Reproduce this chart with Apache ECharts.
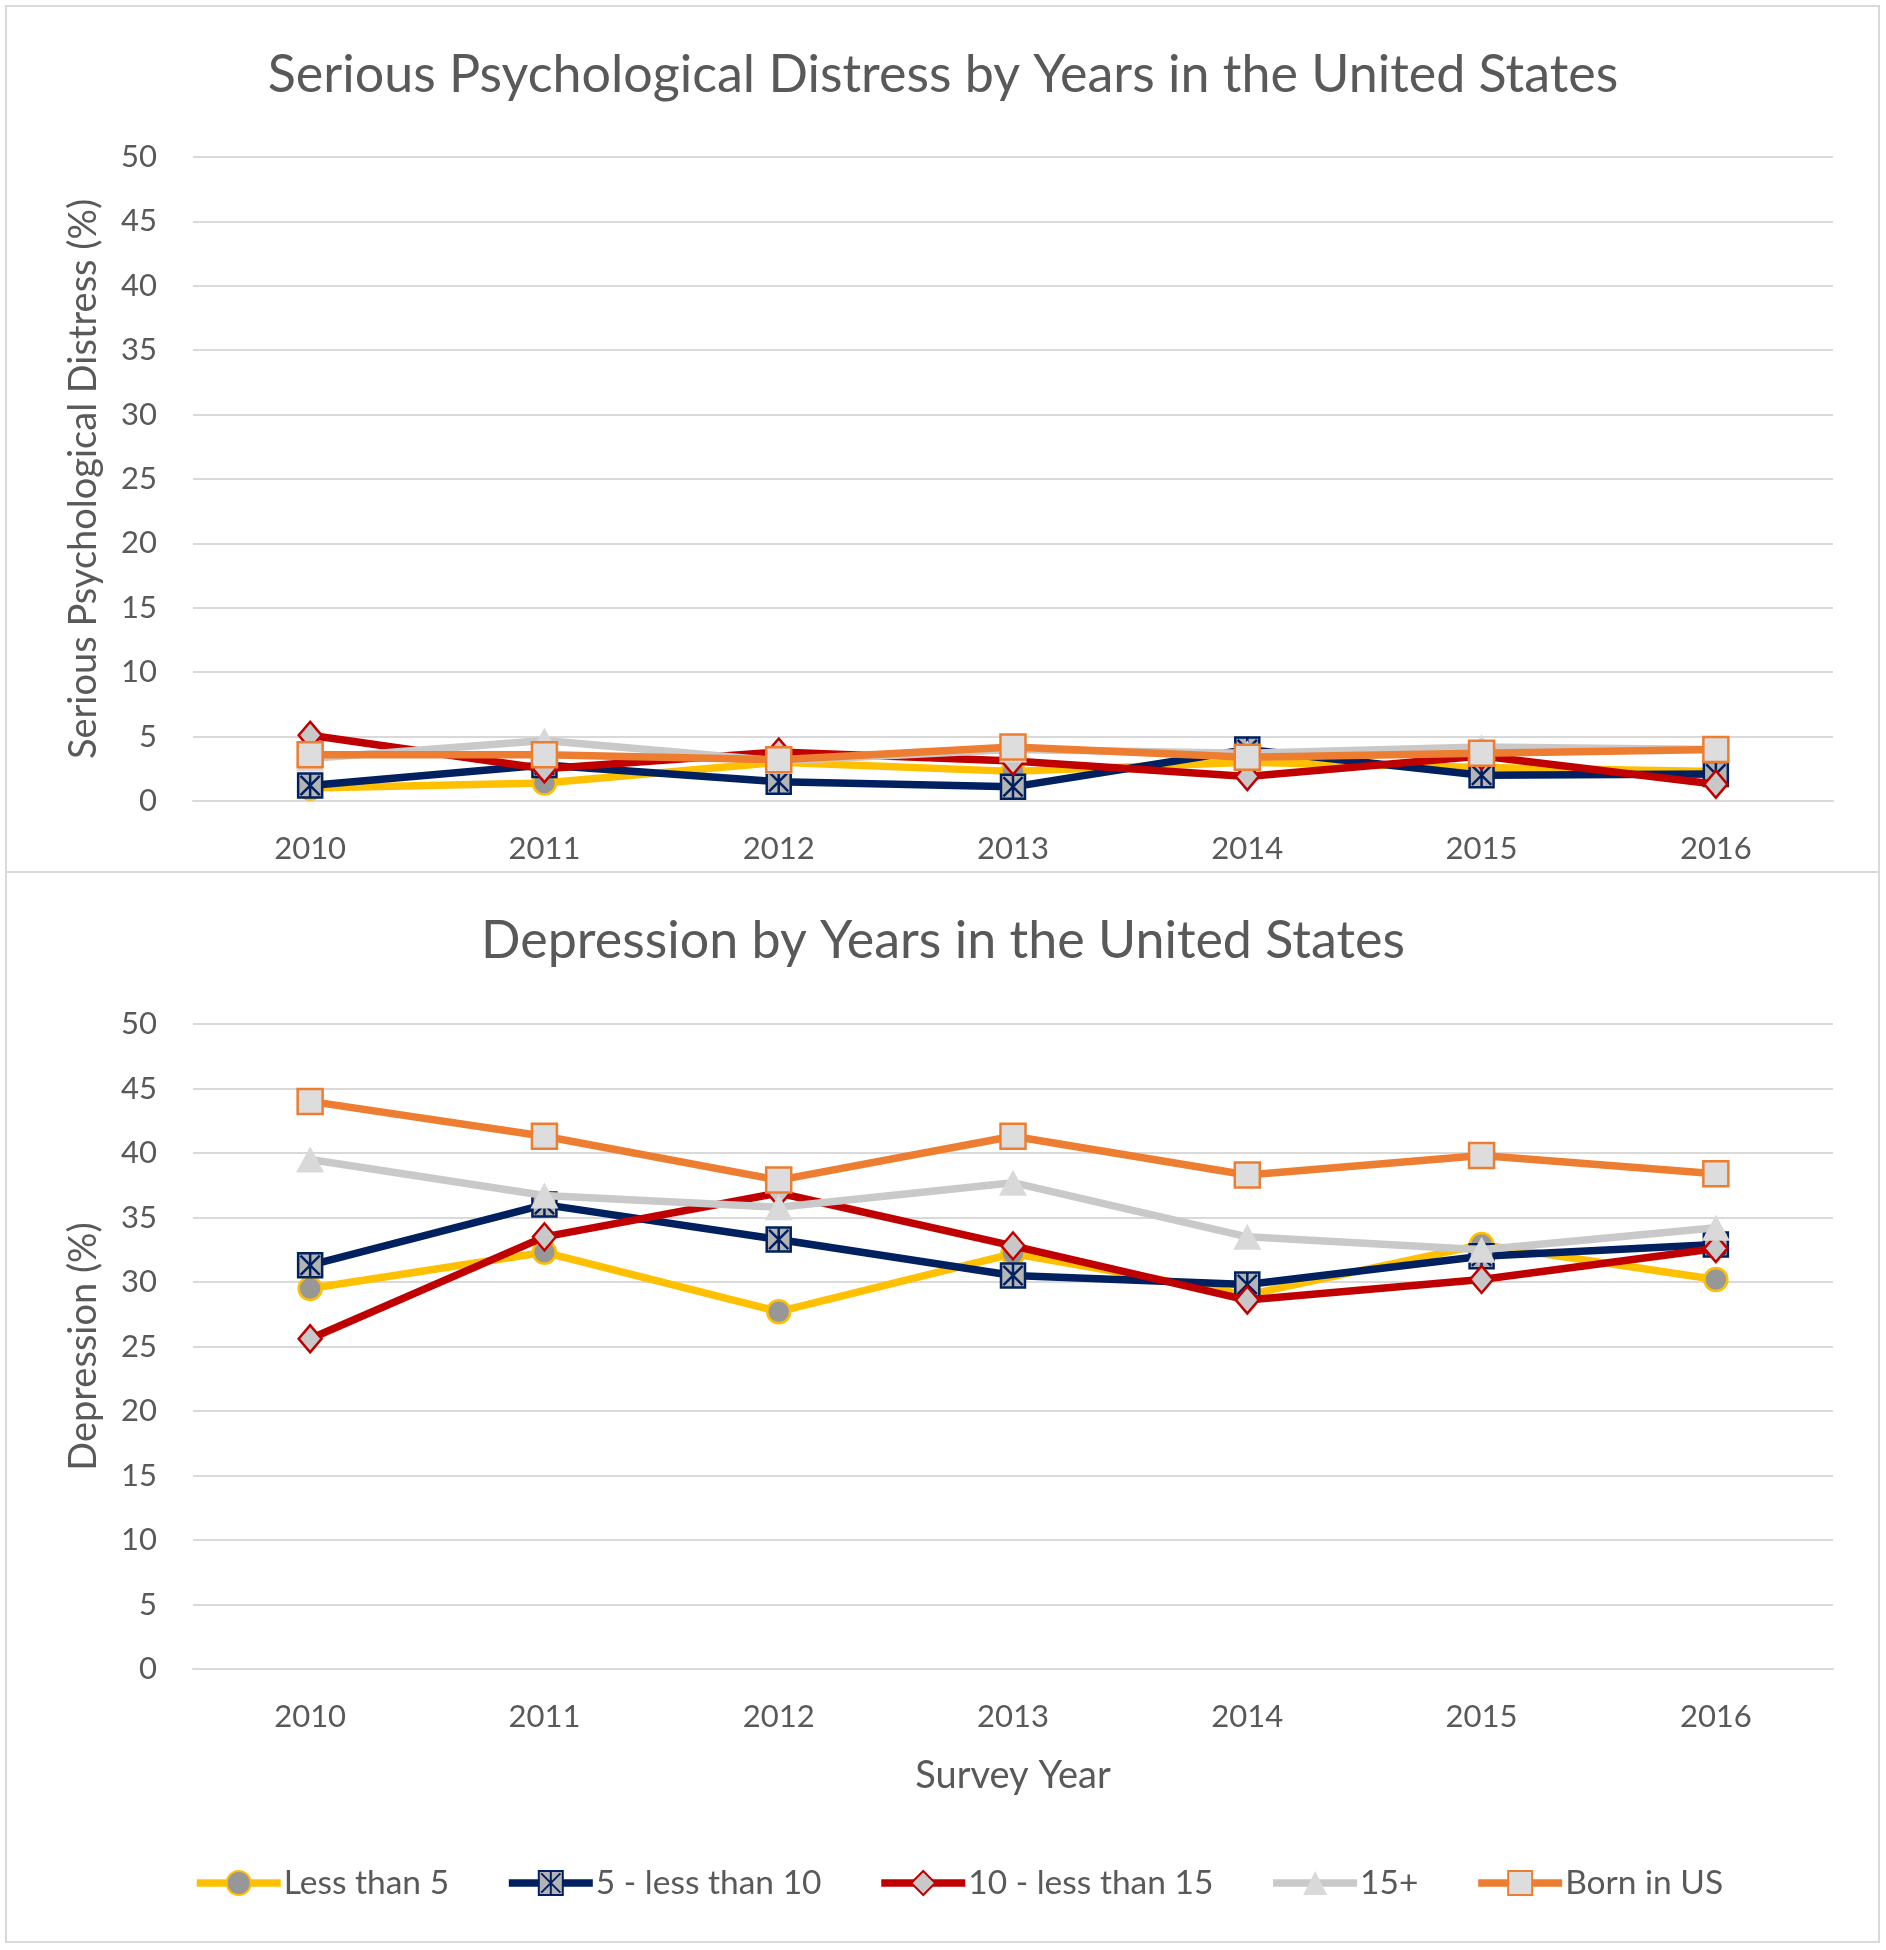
<!DOCTYPE html>
<html>
<head>
<meta charset="utf-8">
<script src="https://cdn.jsdelivr.net/npm/echarts@6/dist/echarts.min.js"></script>
<style>html,body{margin:0;padding:0;background:#fff;}#c{width:1886px;height:1950px;}</style>
</head>
<body>
<div id="c"></div>
<script>
const years = ['2010', '2011', '2012', '2013', '2014', '2015', '2016'];
const seriesNames = ['Less than 5', '5 - less than 10', '10 - less than 15', '15+', 'Born in US'];
const yTicks = [0, 5, 10, 15, 20, 25, 30, 35, 40, 45, 50];

// Serious Psychological Distress (%)
const spdLessThan5 = [1.0, 1.4, 3.0, 2.3, 3.0, 2.6, 2.3];
const spd5to10 = [1.2, 2.8, 1.5, 1.1, 4.0, 2.0, 2.1];
const spd10to15 = [5.1, 2.5, 3.8, 3.1, 1.9, 3.5, 1.3];
const spd15plus = [3.3, 4.7, 3.1, 4.0, 3.7, 4.2, 4.0];
const spdBornUS = [3.6, 3.6, 3.2, 4.2, 3.4, 3.7, 4.0];

// Depression (%)
const depLessThan5 = [29.5, 32.3, 27.7, 32.2, 29.0, 32.9, 30.2];
const dep5to10 = [31.3, 36.0, 33.3, 30.5, 29.8, 32.0, 32.9];
const dep10to15 = [25.6, 33.5, 36.9, 32.8, 28.6, 30.2, 32.6];
const dep15plus = [39.5, 36.7, 35.8, 37.7, 33.5, 32.5, 34.2];
const depBornUS = [44.0, 41.3, 37.9, 41.3, 38.3, 39.8, 38.4];

const FONT = 'Lato';
const TXT = '#595959';

const styles = [
  { line: '#FFC000', symbol: 'circle', size: 23, fill: '#979797', border: '#FFC000', bw: 2.5 },
  { line: '#002060', symbol: 'path://M0,0L10,0L10,10L0,10Z M1,1L9,9 M9,1L1,9 M5,0L5,10', size: 24, fill: '#B4B4B4', border: '#002060', bw: 2.5 },
  { line: '#C00000', symbol: 'diamond', size: [23, 27], fill: '#C8C8C8', border: '#C00000', bw: 2.5 },
  { line: '#C9C9C9', symbol: 'triangle', size: [28, 26], fill: '#D9D9D9', border: '#D9D9D9', bw: 0 },
  { line: '#ED7D31', symbol: 'rect', size: 25, fill: '#DDDDDD', border: '#ED7D31', bw: 2.5 }
];

function mkSeries(data, idx, gridIdx) {
  const s = styles[idx];
  return {
    name: seriesNames[idx],
    type: 'line',
    xAxisIndex: gridIdx,
    yAxisIndex: gridIdx,
    data: data,
    symbol: s.symbol,
    symbolSize: s.size,
    showAllSymbol: true,
    lineStyle: { color: s.line, width: 7.5 },
    itemStyle: { color: s.fill, borderColor: s.border, borderWidth: s.bw },
    emphasis: { disabled: true },
    z: 2 + idx
  };
}

const spdData = [spdLessThan5, spd5to10, spd10to15, spd15plus, spdBornUS];
const depData = [depLessThan5, dep5to10, dep10to15, dep15plus, depBornUS];

const series = [];
spdData.forEach((d, i) => series.push(mkSeries(d, i, 0)));
depData.forEach((d, i) => series.push(mkSeries(d, i, 1)));

function yAxis(gridIdx, name) {
  return {
    type: 'value', gridIndex: gridIdx, min: yTicks[0], max: yTicks[yTicks.length - 1], interval: 5,
    name: name, nameLocation: 'middle', nameGap: 90,
    nameTextStyle: { fontFamily: FONT, fontSize: 38, color: TXT },
    axisLine: { show: false }, axisTick: { show: false },
    axisLabel: { fontFamily: FONT, fontSize: 31, color: TXT, margin: 36 },
    splitLine: { lineStyle: { color: '#D9D9D9', width: 2 } }
  };
}
function xAxis(gridIdx, name) {
  return {
    type: 'category', gridIndex: gridIdx, data: years, boundaryGap: true,
    name: name, nameLocation: 'middle', nameGap: 88,
    nameTextStyle: { fontFamily: FONT, fontSize: 38, color: TXT },
    axisLine: { show: true, lineStyle: { color: '#D9D9D9', width: 2 } },
    axisTick: { show: false },
    axisLabel: { fontFamily: FONT, fontSize: 31, color: TXT, margin: 32 }
  };
}

const chart = echarts.init(document.getElementById('c'), null, { renderer: 'canvas' });
chart.setOption({
  animation: false,
  backgroundColor: '#ffffff',
  title: [
    { text: 'Serious Psychological Distress by Years in the United States', left: 'center', top: 47, padding: 0,
      textStyle: { fontFamily: FONT, fontSize: 52, fontWeight: 'normal', color: TXT, lineHeight: 56 } },
    { text: 'Depression by Years in the United States', left: 'center', top: 913, padding: 0,
      textStyle: { fontFamily: FONT, fontSize: 52, fontWeight: 'normal', color: TXT, lineHeight: 56 } }
  ],
  grid: [
    { left: 193, right: 53, top: 157, height: 644, containLabel: false },
    { left: 193, right: 53, top: 1024, height: 645, containLabel: false }
  ],
  xAxis: [xAxis(0, ''), xAxis(1, 'Survey Year')],
  yAxis: [yAxis(0, 'Serious Psychological Distress (%)'), yAxis(1, 'Depression (%)')],
  legend: {
    data: seriesNames, left: 193, top: 1866, padding: 0, itemWidth: 84, itemHeight: 30, itemGap: 56,
    lineStyle: { width: 7.5 },
    textStyle: { fontFamily: FONT, fontSize: 33.5, color: TXT, padding: [0, 0, 0, -2] },
    selectedMode: false
  },
  graphic: [
    { type: 'rect', shape: { x: 6, y: 6, width: 1873, height: 866 }, style: { fill: 'none', stroke: '#D9D9D9', lineWidth: 2 }, silent: true },
    { type: 'rect', shape: { x: 6, y: 872, width: 1873, height: 1070 }, style: { fill: 'none', stroke: '#D9D9D9', lineWidth: 2 }, silent: true }
  ],
  series: series
});
</script>
</body>
</html>
